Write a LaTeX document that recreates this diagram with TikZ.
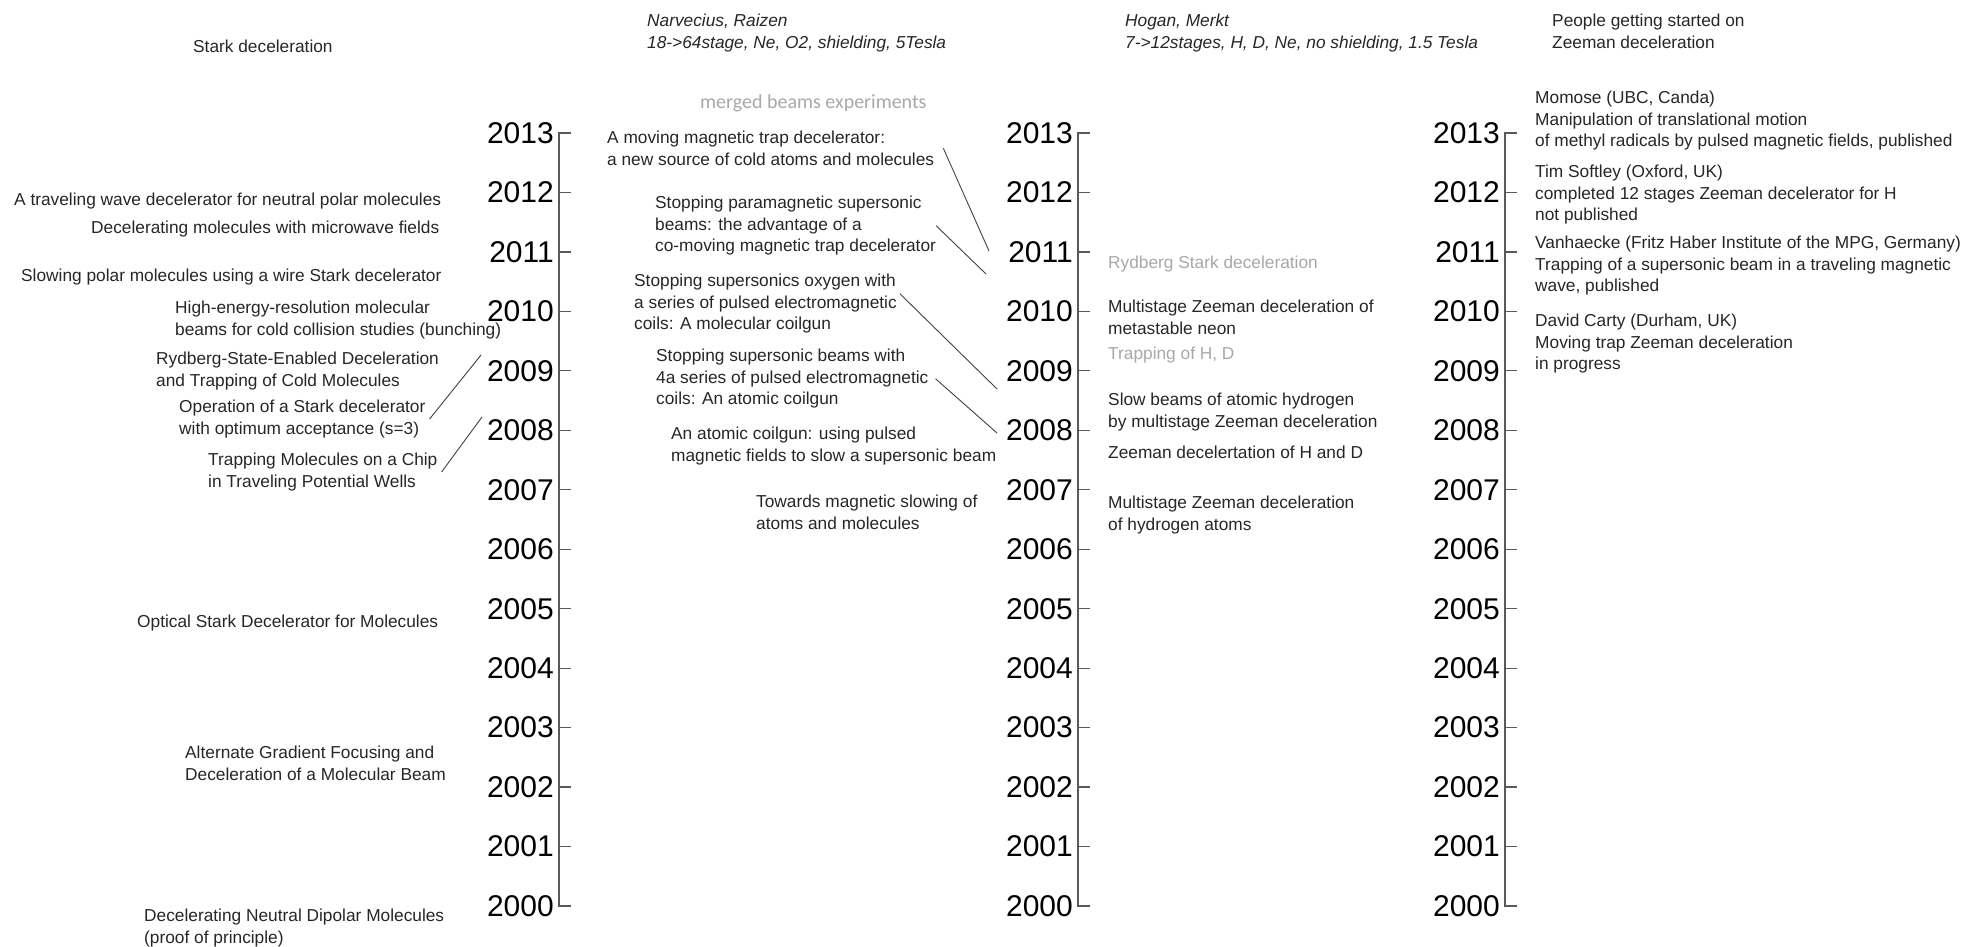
\documentclass[tikz,border=0pt]{standalone}
\usepackage{fontspec}
\setmainfont{Liberation Sans}
\newfontfamily\carlito{Carlito}
\usetikzlibrary{positioning}
\definecolor{notegray}{gray}{0.66}
\definecolor{axisgray}{gray}{0.35}

\begin{document}
\begin{tikzpicture}[x=1pt, y=-1pt,
    item/.style={anchor=north west, inner sep=0pt, align=left,
                 font=\fontsize{17.3}{21.5}\selectfont, text=black!85},
    hdr/.style={item, font=\fontsize{17.3}{21.5}\selectfont\itshape},
    faint/.style={item, text=notegray},
    yr/.style={anchor=east, inner sep=0pt, font=\fontsize{30}{30}\selectfont, text=black},
    axis/.style={draw=axisgray, line width=1.2pt},
    lnk/.style={draw=black!75, line width=0.9pt}
  ]
  \useasboundingbox (0,0) rectangle (1967,946);

  % time axes
  \foreach \ax/\xa in {a/559, b/1078, c/1505} {
    \draw[axis] (\xa+12,133) -- (\xa,133) -- (\xa,906) -- (\xa+12,906);
    \foreach \yr in {2000,...,2013} {
      \pgfmathsetmacro\ya{133+(2013-\yr)*59.46}
      \draw[axis] (\xa,\ya) -- (\xa+12,\ya);
      \node[yr] (\ax\yr) at (\xa-5,\ya) {\yr};
    }
  }

  % headings
  \node[item] (stark) at (193,40) {Stark deceleration};
  \node[hdr] (narv) at (647,14) {Narvecius, Raizen\\18->64stage, Ne, O2, shielding, 5Tesla};
  \node[item, anchor=base west, text=notegray, font=\carlito\fontsize{20}{24}\selectfont] (merged) at (700,108) {merged beams experiments};
  \node[hdr] (hogan) at (1125,14) {Hogan, Merkt\\7->12stages, H, D, Ne, no shielding, 1.5 Tesla};
  \node[item] (people) at (1552,14) {People getting started on\\Zeeman deceleration};

  % Stark deceleration
  \node[item] (twd) at (14,193) {A traveling wave decelerator for neutral polar molecules};
  \node[item] (mwf) at (91,221) {Decelerating molecules with microwave fields};
  \node[item] (wire) at (21,269) {Slowing polar molecules using a wire Stark decelerator};
  \node[item] (bunch) at (175,301) {High-energy-resolution molecular\\beams for cold collision studies (bunching)};
  \node[item] (ryd) at (156,352) {Rydberg-State-Enabled Deceleration\\and Trapping of Cold Molecules};
  \node[item] (opt) at (179,400) {Operation of a Stark decelerator\\with optimum acceptance (s=3)};
  \node[item] (chip) at (208,453) {Trapping Molecules on a Chip\\in Traveling Potential Wells};
  \node[item] (osd) at (137,615) {Optical Stark Decelerator for Molecules};
  \node[item] (agf) at (185,746) {Alternate Gradient Focusing and\\Deceleration of a Molecular Beam};
  \node[item] (dndm) at (144,909) {Decelerating Neutral Dipolar Molecules\\(proof of principle)};

  % Narvecius, Raizen
  \node[item] (mmt) at (607,131) {A moving magnetic trap decelerator:\\a new source of cold atoms and molecules};
  \node[item] (spm) at (655,196) {Stopping paramagnetic supersonic\\beams: the advantage of a\\co-moving magnetic trap decelerator};
  \node[item] (sox) at (634,274) {Stopping supersonics oxygen with\\a series of pulsed electromagnetic\\coils: A molecular coilgun};
  \node[item] (ssb) at (656,349) {Stopping supersonic beams with\\4a series of pulsed electromagnetic\\coils: An atomic coilgun};
  \node[item] (acg) at (671,427) {An atomic coilgun: using pulsed\\magnetic fields to slow a supersonic beam};
  \node[item] (twm) at (756,495) {Towards magnetic slowing of\\atoms and molecules};

  % Hogan, Merkt
  \node[faint] (rsd) at (1108,256) {Rydberg Stark deceleration};
  \node[item] (mzn) at (1108,300) {Multistage Zeeman deceleration of\\metastable neon};
  \node[faint] (thd) at (1108,347) {Trapping of H, D};
  \node[item] (sba) at (1108,393) {Slow beams of atomic hydrogen\\by multistage Zeeman deceleration};
  \node[item] (zhd) at (1108,446) {Zeeman decelertation of H and D};
  \node[item] (mzh) at (1108,496) {Multistage Zeeman deceleration\\of hydrogen atoms};

  % newcomers
  \node[item] (mom) at (1535,91) {Momose (UBC, Canda)\\Manipulation of translational motion\\of methyl radicals by pulsed magnetic fields, published};
  \node[item] (sof) at (1535,165) {Tim Softley (Oxford, UK)\\completed 12 stages Zeeman decelerator for H\\not published};
  \node[item] (van) at (1535,236) {Vanhaecke (Fritz Haber Institute of the MPG, Germany)\\Trapping of a supersonic beam in a traveling magnetic\\wave, published};
  \node[item] (car) at (1535,314) {David Carty (Durham, UK)\\Moving trap Zeeman deceleration\\in progress};

  % pointer lines
  \coordinate (opt-to) at (481,355);
  \coordinate (chip-to) at (482,417);
  \coordinate (mmt-to) at (989,251);
  \coordinate (spm-to) at (986,274);
  \coordinate (sox-to) at (997,389);
  \coordinate (ssb-to) at (997,433);
  \draw[lnk] ([xshift=4pt]opt.east) -- (opt-to);
  \draw[lnk] ([xshift=4pt]chip.east) -- (chip-to);
  \draw[lnk] ([xshift=9pt]mmt.east) -- (mmt-to);
  \draw[lnk] (spm.east) -- (spm-to);
  \draw[lnk] ([shift={(3pt,10pt)}]sox.east) -- (sox-to);
  \draw[lnk] ([xshift=7pt]ssb.east) -- (ssb-to);
\end{tikzpicture}
\end{document}
